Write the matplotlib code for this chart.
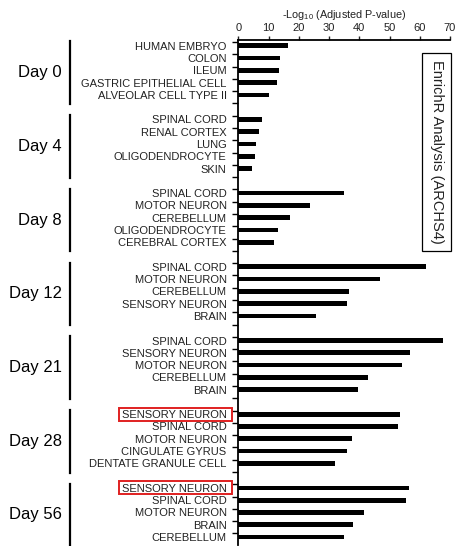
import matplotlib
matplotlib.use("Agg")
import matplotlib.pyplot as plt
from matplotlib.patches import Rectangle
from matplotlib.transforms import blended_transform_factory

plt.rcParams['font.family'] = ['Liberation Sans', 'DejaVu Sans']
plt.rcParams['mathtext.fontset'] = 'custom'
plt.rcParams['mathtext.rm'] = 'Liberation Sans'
plt.rcParams['mathtext.it'] = 'Liberation Sans:italic'

days = ["Day 0", "Day 4", "Day 8", "Day 12", "Day 21", "Day 28", "Day 56"]

terms_day0 = ["HUMAN EMBRYO", "COLON", "ILEUM", "GASTRIC EPITHELIAL CELL", "ALVEOLAR CELL TYPE II"]
vals_day0 = [16.5, 13.7, 13.3, 12.8, 10.2]

terms_day4 = ["SPINAL CORD", "RENAL CORTEX", "LUNG", "OLIGODENDROCYTE", "SKIN"]
vals_day4 = [7.9, 6.7, 5.9, 5.5, 4.5]

terms_day8 = ["SPINAL CORD", "MOTOR NEURON", "CEREBELLUM", "OLIGODENDROCYTE", "CEREBRAL CORTEX"]
vals_day8 = [34.8, 23.8, 17.2, 13.0, 11.9]

terms_day12 = ["SPINAL CORD", "MOTOR NEURON", "CEREBELLUM", "SENSORY NEURON", "BRAIN"]
vals_day12 = [62.2, 46.9, 36.7, 35.9, 25.6]

terms_day21 = ["SPINAL CORD", "SENSORY NEURON", "MOTOR NEURON", "CEREBELLUM", "BRAIN"]
vals_day21 = [67.8, 56.9, 54.0, 43.0, 39.6]

terms_day28 = ["SENSORY NEURON", "SPINAL CORD", "MOTOR NEURON", "CINGULATE GYRUS", "DENTATE GRANULE CELL"]
vals_day28 = [53.4, 52.9, 37.6, 35.9, 32.0]

terms_day56 = ["SENSORY NEURON", "SPINAL CORD", "MOTOR NEURON", "BRAIN", "CEREBELLUM"]
vals_day56 = [56.6, 55.5, 41.5, 37.9, 35.0]

groups_terms = [terms_day0, terms_day4, terms_day8, terms_day12, terms_day21, terms_day28, terms_day56]
groups_vals = [vals_day0, vals_day4, vals_day8, vals_day12, vals_day21, vals_day28, vals_day56]
highlighted_groups = ["Day 28", "Day 56"]   # first term of these groups is boxed

xticks = [0, 10, 20, 30, 40, 50, 60, 70]

fig = plt.figure(figsize=(4.56, 5.46), dpi=100)
ax = fig.add_axes([0.5226, 0.0018, 0.4642, 0.9257])

positions, labels, values = [], [], []
group_rows = []
row = 0
for terms, vals in zip(groups_terms, groups_vals):
    start = row
    for t, v in zip(terms, vals):
        positions.append(row)
        labels.append(t)
        values.append(v)
        row += 1
    group_rows.append((start, row - 1))
    row += 1  # blank row between groups

ax.barh(positions, values, height=0.38, color='black', left=0)

ax.set_xlim(0, 70)
ax.set_ylim(40.65, -0.5)

# x axis on top
ax.xaxis.set_ticks_position('top')
ax.xaxis.set_label_position('top')
ax.set_xticks(xticks)
ax.set_xticklabels([str(t) for t in xticks])
ax.tick_params(axis='x', which='major', direction='out', length=3, width=1,
               pad=1.5, labelsize=8, colors='#222222')
ax.set_xlabel(r"-Log$_{10}$ (Adjusted P-value)", fontsize=7.8, labelpad=4, color='#222222')

# category labels on the left
ax.set_yticks(positions)
ax.set_yticklabels(labels)
ax.tick_params(axis='y', which='major', length=0, pad=8.5, labelsize=8, labelcolor='#222222')
ax.set_yticks([r - 0.3 for r in range(0, 41)], minor=True)
ax.tick_params(axis='y', which='minor', direction='out', length=4, width=1, color='black')

for side in ('right', 'bottom'):
    ax.spines[side].set_visible(False)
for side in ('left', 'top'):
    ax.spines[side].set_linewidth(1.3)

# group brackets and day labels
trans = blended_transform_factory(fig.transFigure, ax.transData)
for day, (r0, r1) in zip(days, group_rows):
    y0, y1 = r0 - 0.35, r1 + 0.75
    ax.plot([0.1535, 0.1535], [y0, y1], color='black', lw=1.6,
            transform=trans, clip_on=False)
    ax.text(0.1355, (y0 + y1) / 2, day, transform=trans, ha='right', va='center',
            fontsize=12, color='black')

# red highlight boxes around selected labels
for day, (r0, r1) in zip(days, group_rows):
    if day in highlighted_groups:
        x0 = 119 / 456
        w = (232.3 - 119) / 456
        rect = Rectangle((x0, r0 - 0.53), w, 1.06, transform=trans, fill=False,
                         edgecolor='#e02020', lw=1.4, clip_on=False)
        fig.add_artist(rect)

# annotation box
ax.text(436.6 / 456, 1 - 152 / 546, "EnrichR Analysis (ARCHS4)", transform=fig.transFigure,
        rotation=-90, ha='center', va='center', fontsize=10.5, color='#222222',
        bbox=dict(boxstyle='square,pad=0.5', facecolor='white', edgecolor='black', lw=0.9))

fig.savefig("out.png", dpi=100)
